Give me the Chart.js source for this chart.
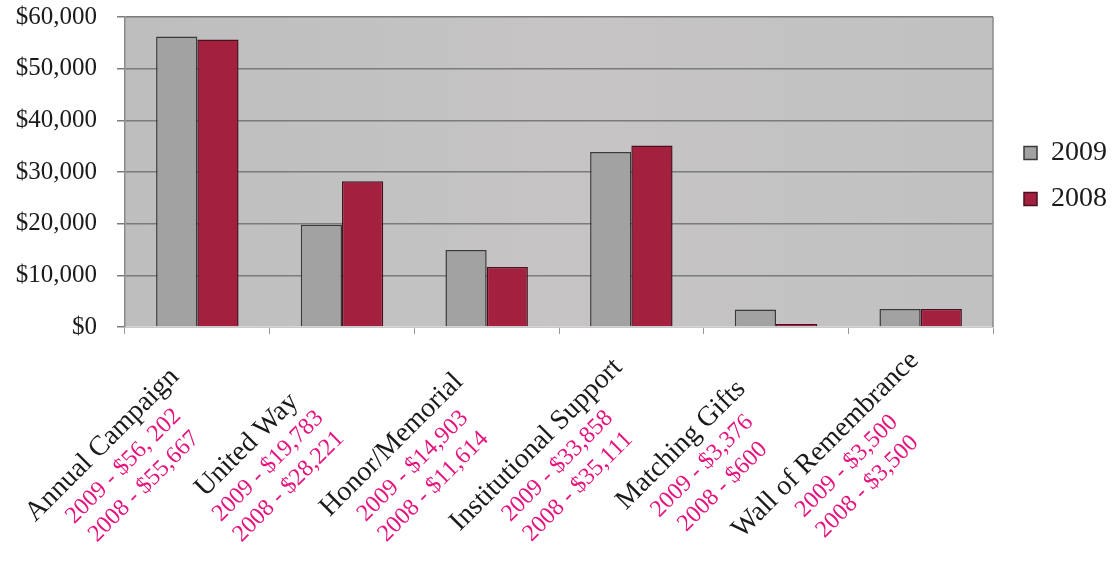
<!DOCTYPE html>
<html>
<head>
<meta charset="utf-8">
<script src="https://cdn.jsdelivr.net/npm/chart.js@4.4.1/dist/chart.umd.min.js"></script>
<style>
  html, body { margin: 0; padding: 0; background: #ffffff; }
  #c { display: block; }
</style>
</head>
<body>
<canvas id="c" width="1117" height="565"></canvas>
<script>
// ---- data ----
const categories = ['Annual Campaign', 'United Way', 'Honor/Memorial', 'Institutional Support', 'Matching Gifts', 'Wall of Remembrance'];
const seriesNames = ['2009', '2008'];
const values2009 = [56202, 19783, 14903, 33858, 3376, 3500];
const values2008 = [55667, 28221, 11614, 35111, 600, 3500];
const notes2009 = ['2009 - $56, 202', '2009 - $19,783', '2009 - $14,903', '2009 - $33,858', '2009 - $3,376', '2009 - $3,500'];
const notes2008 = ['2008 - $55,667', '2008 - $28,221', '2008 - $11,614', '2008 - $35,111', '2008 - $600', '2008 - $3,500'];
const yTickValues = [0, 10000, 20000, 30000, 40000, 50000, 60000];

const FONT = '"Liberation Serif", "Times New Roman", serif';
const labels = categories.map((c, i) => [c, notes2009[i], notes2008[i]]);

const bgPlugin = {
  id: 'plotBg',
  beforeDraw(chart) {
    const { ctx, chartArea: a } = chart;
    ctx.save();
    ctx.fillStyle = '#ffffff';
    ctx.fillRect(0, 0, chart.width, chart.height);
    const g = ctx.createLinearGradient(a.left, 0, a.right, 0);
    g.addColorStop(0, '#bebebe');
    g.addColorStop(0.5, '#c6c4c4');
    g.addColorStop(1, '#c2c1c1');
    ctx.fillStyle = g;
    ctx.fillRect(a.left, a.top, a.right - a.left, a.bottom - a.top);
    ctx.restore();
  },
  afterDatasetsDraw(chart) {
    const { ctx, chartArea: a } = chart;
    ctx.save();
    ctx.strokeStyle = '#8a8a8a';
    ctx.lineWidth = 1.5;
    ctx.beginPath();
    ctx.moveTo(a.right, a.top);
    ctx.lineTo(a.right, a.bottom);
    ctx.stroke();
    ctx.restore();
  }
};

const xLabelPlugin = {
  id: 'xLabels',
  afterDraw(chart) {
    const { ctx } = chart;
    const xs = chart.scales.x;
    const offsets = [0, 30, 59];
    chart.data.labels.forEach((lines, i) => {
      const x = xs.getPixelForValue(i);
      ctx.save();
      ctx.translate(x - 95, 445);
      ctx.rotate(-Math.PI / 4);
      ctx.textAlign = 'center';
      ctx.textBaseline = 'middle';
      lines.forEach((t, j) => {
        ctx.font = (j === 0 ? '28px ' : '24px ') + FONT;
        ctx.fillStyle = j === 0 ? '#1a1a1a' : '#e5147f';
        ctx.fillText(t, 0, offsets[j]);
      });
      ctx.restore();
    });
  }
};

new Chart(document.getElementById('c'), {
  type: 'bar',
  data: {
    labels: labels,
    datasets: [
      { label: seriesNames[0], data: values2009, backgroundColor: '#a2a2a2', borderColor: '#3a3a3a', borderWidth: 1.5 },
      { label: seriesNames[1], data: values2008, backgroundColor: '#a3203f', borderColor: '#4a1020', borderWidth: 1.5 }
    ]
  },
  options: {
    responsive: false,
    animation: false,
    devicePixelRatio: 1,
    layout: { padding: { left: 0, top: 1, right: 0, bottom: 0 } },
    datasets: { bar: { categoryPercentage: 0.57, barPercentage: 1.0 } },
    plugins: {
      legend: {
        position: 'right',
        align: 'start',
        title: { display: true, text: '', font: { size: 10 }, padding: { top: 108, bottom: 0 } },
        labels: {
          font: { family: FONT, size: 28 },
          color: '#1a1a1a',
          boxWidth: 13,
          boxHeight: 13,
          padding: 18
        }
      },
      tooltip: { enabled: false }
    },
    scales: {
      x: {
        offset: true,
        ticks: { display: false },
        grid: { display: true, drawOnChartArea: false, drawTicks: true, tickLength: 7, color: '#9a9a9a', offset: true },
        border: { display: true, color: '#d6d6d6', width: 1.5 },
        afterFit(s) { s.height = 238; }
      },
      y: {
        min: 0,
        max: 60000,
        afterBuildTicks(s) { s.ticks = yTickValues.map(v => ({ value: v })); },
        ticks: {
          font: { family: FONT, size: 25 },
          color: '#1a1a1a',
          padding: 20,
          callback: v => '$' + Number(v).toLocaleString('en-US')
        },
        grid: { color: '#7b7b7b', lineWidth: 1.5, drawTicks: true, tickLength: 8 },
        border: { display: true, color: '#8a8a8a', width: 1.5 },
        afterFit(s) { s.width = 125; s.paddingTop = 17; s.paddingBottom = 0; }
      },
      gap: {
        position: 'right',
        display: true,
        ticks: { display: false },
        grid: { display: false },
        border: { display: false },
        afterFit(s) { s.width = 13; s.paddingTop = 0; s.paddingBottom = 0; }
      }
    }
  },
  plugins: [bgPlugin, xLabelPlugin]
});
</script>
</body>
</html>
